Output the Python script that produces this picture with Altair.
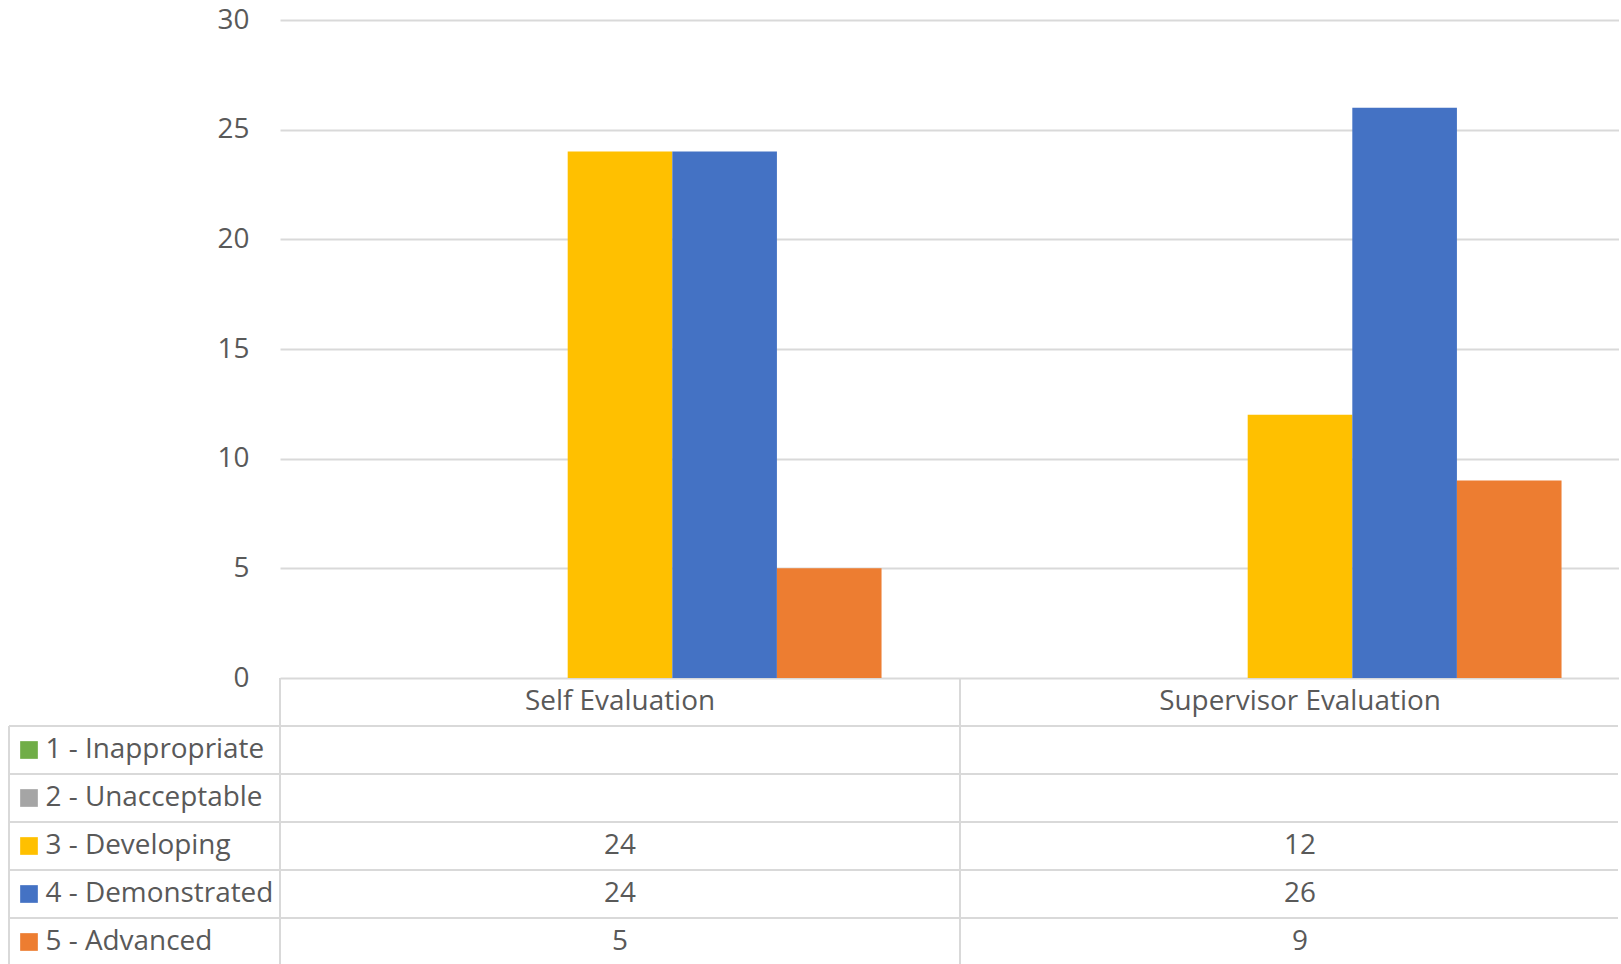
import altair as alt
import pandas as pd

# --- data -------------------------------------------------------------
categories = ["Self Evaluation", "Supervisor Evaluation"]
series = ["1 - Inappropriate", "2 - Unacceptable", "3 - Developing",
          "4 - Demonstrated", "5 - Advanced"]
colors = ["#70AD47", "#A5A5A5", "#FFC000", "#4472C4", "#ED7D31"]

inappropriate = [None, None]
unacceptable = [None, None]
developing = [24, 12]
demonstrated = [24, 26]
advanced = [5, 9]

y_ticks = [0, 5, 10, 15, 20, 25, 30]

# --- layout -------------------------------------------------------------
PLOT_W = 1338           # visible plot width
BAND_END = 1360         # two category bands of 680 px, right one runs off the edge
PLOT_H = 658
ROW_H = 48
TABLE_H = 286           # last table row is cut by the page bottom
FONT = "Open Sans"
FS = 27.9
TXT = "#595959"
LINE = "#D9D9D9"

series_values = [inappropriate, unacceptable, developing, demonstrated, advanced]

bar_rows = []
table_rows = []
for cat_i, cat in enumerate(categories):
    table_rows.append({"category": cat, "row": "header", "label": cat})
    for s, vals in zip(series, series_values):
        v = vals[cat_i]
        if v is not None:
            bar_rows.append({"category": cat, "series": s, "value": v})
        table_rows.append({"category": cat, "row": s,
                           "label": "" if v is None else str(v)})

bar_df = pd.DataFrame(bar_rows)
table_df = pd.DataFrame(table_rows)
series_df = pd.DataFrame({"row": series, "series": series})
cat_df = pd.DataFrame({"category": categories})
one_df = pd.DataFrame({"k": [0]})

row_domain = ["header"] + series

x_scale = alt.Scale(domain=categories, range=[0, BAND_END],
                    paddingInner=0, paddingOuter=0)
row_scale = alt.Scale(type="band", domain=row_domain,
                      range=[0, ROW_H * len(row_domain)],
                      paddingInner=0, paddingOuter=0)
color_scale = alt.Scale(domain=series, range=colors)
no_frame = alt.ViewBackground(strokeOpacity=0, strokeWidth=0)

row_axis = alt.Axis(
    title=None, orient="left", domain=False, ticks=False, grid=False,
    labelAlign="left", labelBaseline="middle", labelPadding=235,
    labelLimit=0,
    labelFont=FONT, labelFontSize=FS, labelColor=TXT,
    labelExpr="datum.value == 'header' ? '' : datum.value",
)

# --- clustered columns ------------------------------------------------------
bars = alt.Chart(bar_df).mark_bar(clip=True).encode(
    x=alt.X("category:N", scale=x_scale, axis=None, sort=categories),
    xOffset=alt.XOffset("series:N",
                        scale=alt.Scale(domain=series, paddingInner=0,
                                        paddingOuter=0.75)),
    y=alt.Y("value:Q", scale=alt.Scale(domain=[0, 30], nice=False),
            axis=alt.Axis(values=y_ticks, title=None, domain=False,
                          ticks=False, grid=True, gridColor=LINE,
                          gridWidth=2, labelPadding=31,
                          labelBaseline="middle", labelFont=FONT,
                          labelFontSize=FS, labelColor=TXT)),
    color=alt.Color("series:N", scale=color_scale, legend=None),
).properties(width=PLOT_W, height=PLOT_H, view=no_frame)

# --- data table below the plot ---------------------------------------------
cells = alt.Chart(table_df).mark_text(
    font=FONT, fontSize=FS, color=TXT, align="center", baseline="middle"
).encode(
    x=alt.X("category:N", scale=x_scale, axis=None, sort=categories),
    y=alt.Y("row:N", scale=row_scale, axis=row_axis, sort=row_domain),
    text="label:N",
)

swatches = alt.Chart(series_df).mark_square(size=313, opacity=1).encode(
    x=alt.value(-251),
    y=alt.Y("row:N", scale=row_scale, axis=row_axis, sort=row_domain),
    color=alt.Color("series:N", scale=color_scale, legend=None),
)

h_lines = alt.Chart(series_df).mark_rule(color=LINE, strokeWidth=2).encode(
    y=alt.Y("row:N", scale=row_scale, axis=row_axis, sort=row_domain,
            bandPosition=0),
    x=alt.value(-271),
    x2=alt.value(PLOT_W),
)

v_lines = alt.Chart(cat_df).mark_rule(color=LINE, strokeWidth=2).encode(
    x=alt.X("category:N", scale=x_scale, axis=None, sort=categories,
            bandPosition=0),
    y=alt.value(0),
    y2=alt.value(TABLE_H),
)

left_edge = alt.Chart(one_df).mark_rule(color=LINE, strokeWidth=2).encode(
    x=alt.value(-271),
    y=alt.value(ROW_H),
    y2=alt.value(TABLE_H),
)

table = alt.layer(h_lines, v_lines, left_edge, swatches, cells).properties(
    width=PLOT_W, height=TABLE_H, view=no_frame
)

chart = alt.vconcat(bars, table, spacing=0, bounds="flush").properties(
    padding={"left": 8, "top": 6, "right": 0, "bottom": 0}
).configure_view(strokeOpacity=0, strokeWidth=0).configure(font=FONT)

chart.save("out.html", embed_options={"renderer": "svg", "actions": False})
